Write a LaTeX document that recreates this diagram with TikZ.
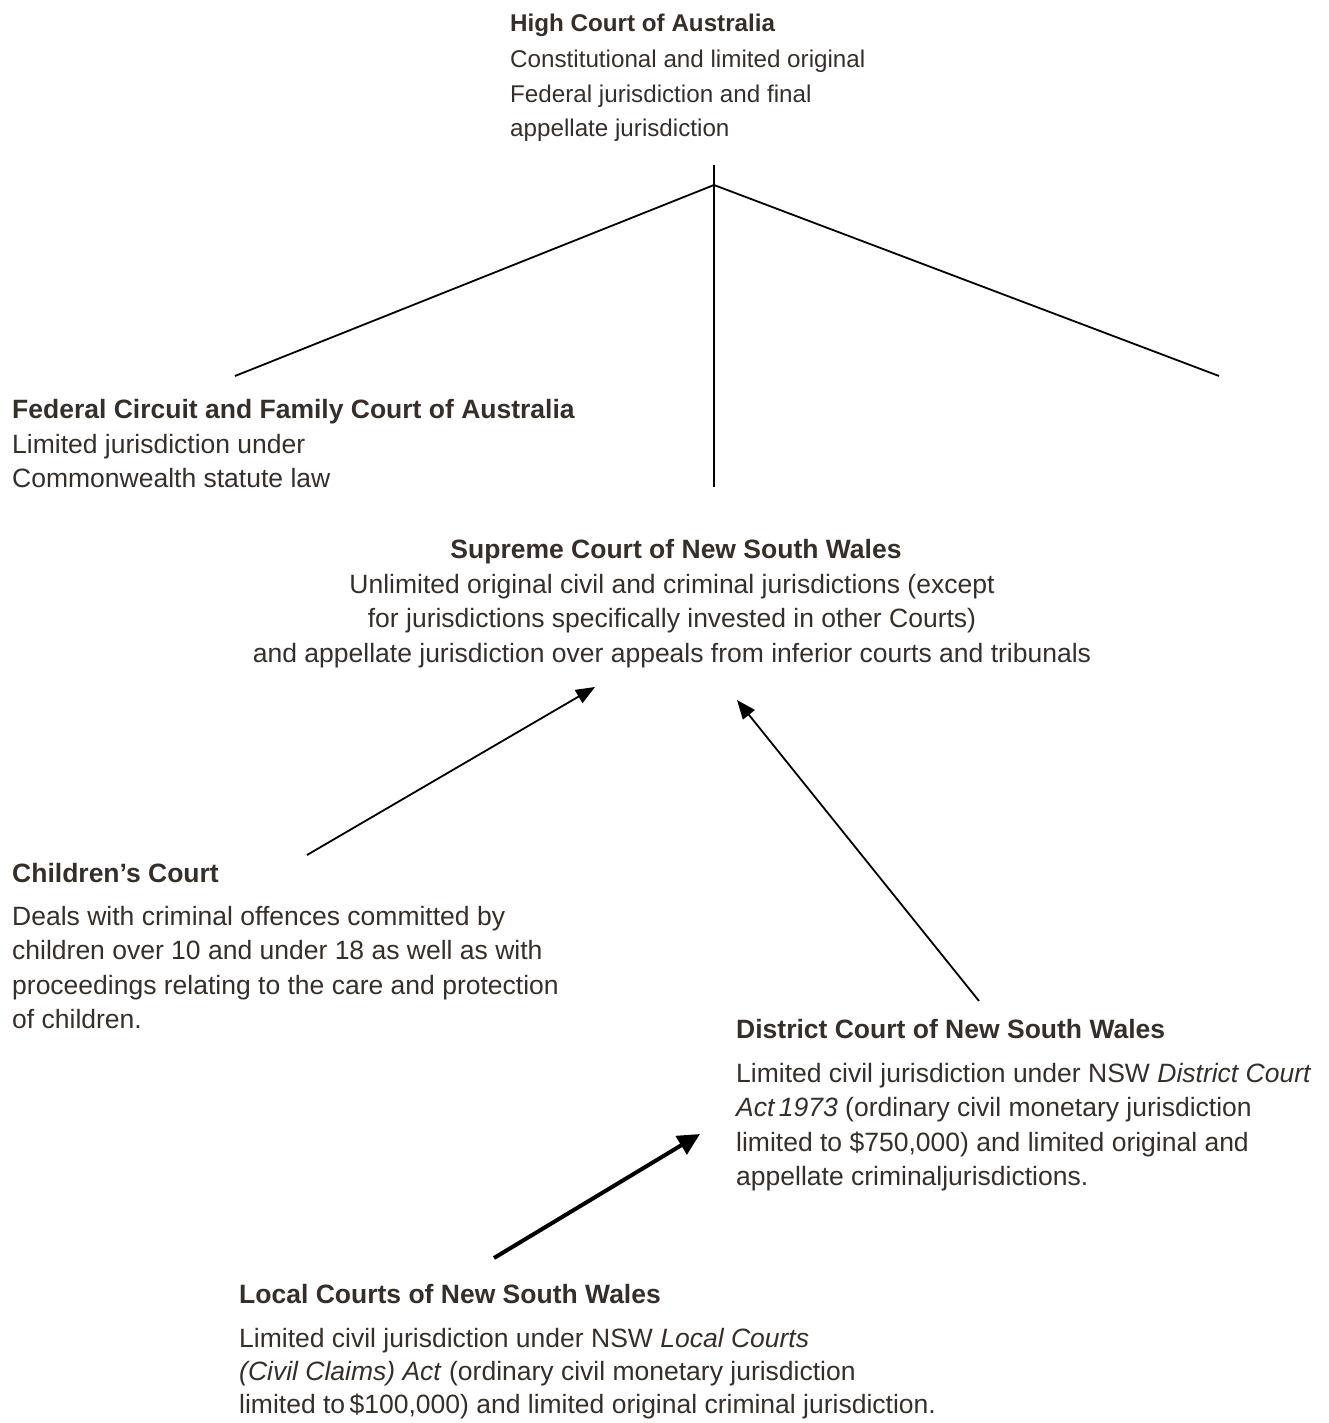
\documentclass[tikz,border=0pt]{standalone}
\usepackage{fontspec}
\setmainfont{Liberation Sans}
\usetikzlibrary{arrows.meta}
\definecolor{txtc}{HTML}{362E29}
\newcommand\linesL[1]{\vtop{\baselineskip=34.5pt\halign{##\hfil\cr#1\crcr}}}
\newcommand\linesC[1]{\vtop{\baselineskip=34.8pt\halign{\hfil##\hfil\cr#1\crcr}}}
\tikzset{
  ttl/.style={anchor=base west,inner sep=0pt,text=txtc,font=\fontsize{26.5}{34.5}\selectfont\bfseries},
  bdy/.style={anchor=base west,inner sep=0pt,text=txtc,font=\fontsize{26.5}{34.5}\selectfont},
  smallttl/.style={font=\fontsize{24.2}{34.5}\selectfont\bfseries},
  smallbdy/.style={font=\fontsize{24.2}{34.5}\selectfont},
  tree/.style={draw=black,line width=1.8pt},
  thinarrow/.style={draw=black,line width=1.8pt,-{Triangle[length=19pt,width=15pt]}},
  thickarrow/.style={draw=black,line width=4pt,-{Triangle[length=22pt,width=21pt]}}
}
\begin{document}
\begin{tikzpicture}[x=1pt,y=-1pt]
\useasboundingbox (0,0) rectangle (1329,1423);
% High Court
\node[ttl,smallttl] (hct) at (510,32) {High Court of Australia};
\node[bdy,smallbdy] (hcb) at (510,68) {\linesL{Constitutional and limited original\cr Federal jurisdiction and final\cr appellate jurisdiction}};
% Federal Circuit
\node[ttl] (fct) at (12,418) {Federal Circuit and Family Court of Australia};
\node[bdy] (fcb) at (12,453) {\linesL{Limited jurisdiction under\cr Commonwealth statute law}};
% Supreme Court
\node[ttl,anchor=base] (sct) at (676,558) {Supreme Court of New South Wales};
\node[bdy,anchor=base] (scb) at (672,593) {\linesC{Unlimited original civil and criminal jurisdictions (except\cr for jurisdictions specifically invested in other Courts)\cr and appellate jurisdiction over appeals from inferior courts and tribunals}};
% Children's Court
\node[ttl] (cct) at (12,882) {Children’s Court};
\node[bdy] (ccb) at (12,925) {\linesL{Deals with criminal offences committed by\cr children over 10 and under 18 as well as with\cr proceedings relating to the care and protection\cr of children.}};
% District Court
\node[ttl] (dct) at (736,1038) {District Court of New South Wales};
\node[bdy] (dcb) at (736,1082) {\linesL{Limited civil jurisdiction under NSW \textit{District Court}\cr \textit{Act\,1973} (ordinary civil monetary jurisdiction\cr limited to \$750,000) and limited original and\cr appellate criminaljurisdictions.}};
% Local Courts
\node[ttl] (lct) at (239,1303) {Local Courts of New South Wales};
\node[bdy] (lcb) at (239,1347) {\vtop{\baselineskip=33pt\halign{#\hfil\cr Limited civil jurisdiction under NSW \textit{Local Courts}\cr \textit{(Civil Claims) Act} (ordinary civil monetary jurisdiction\cr limited to\,\$100,000) and limited original criminal jurisdiction.\crcr}}};
% tree coordinates
\coordinate (top) at (714,165);
\coordinate (apex) at (714,185);
\coordinate (lend) at (235,376);
\coordinate (rend) at (1219,376);
\coordinate (vend) at (714,487);
\draw[tree] (top) -- (vend);
\draw[tree] (lend) -- (apex) -- (rend);
% arrows
\coordinate (a1s) at (307,855);
\coordinate (a1e) at (595,687);
\coordinate (a2s) at (979,1001);
\coordinate (a2e) at (737,700);
\coordinate (a3s) at (494,1258);
\coordinate (a3e) at (700,1134);
\draw[thinarrow] (a1s) -- (a1e);
\draw[thinarrow] (a2s) -- (a2e);
\draw[thickarrow] (a3s) -- (a3e);
\end{tikzpicture}
\end{document}
